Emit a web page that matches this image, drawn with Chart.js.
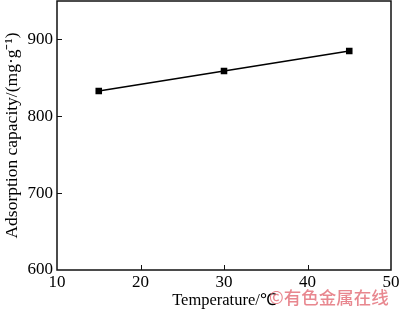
<!DOCTYPE html>
<html>
<head>
<meta charset="utf-8">
<script src="https://cdn.jsdelivr.net/npm/chart.js@4"></script>
<style>
    html, body { margin: 0; padding: 0; background: #fff; }
    #wrap { width: 400px; height: 312px; }
</style>
</head>
<body>
<div id="wrap"><canvas id="c"></canvas></div>
<script>
const temperatures = [15, 30, 45];
const capacities = [833, 859, 885];
const xTicks = [10, 20, 30, 40, 50];
const yTicks = [600, 700, 800, 900];

const SERIF = '"Liberation Serif", "Times New Roman", serif';

const frameAndTicks = {
    id: 'frameAndTicks',
    afterDraw(chart) {
        const { ctx: c, chartArea: a, scales: { x, y } } = chart;
        c.save();
        c.strokeStyle = '#111';
        c.lineWidth = 1.5;
        c.strokeRect(a.left, a.top, a.right - a.left, a.bottom - a.top);
        c.lineWidth = 1;
        c.beginPath();
        for (const v of xTicks.slice(1, -1)) {
            const px = Math.round(x.getPixelForValue(v)) + 0.5;
            c.moveTo(px, a.bottom);
            c.lineTo(px, a.bottom - 5);
        }
        for (const v of yTicks.slice(1)) {
            const py = Math.round(y.getPixelForValue(v)) + 0.5;
            c.moveTo(a.left, py);
            c.lineTo(a.left + 5, py);
        }
        c.stroke();

        // watermark
        c.font = '500 17.5px "Noto Sans CJK SC", sans-serif';
        c.fillStyle = 'rgba(226, 105, 115, 0.8)';
        c.textAlign = 'left';
        c.textBaseline = 'middle';
        c.fillText('©有色金属在线', 269, 297);
        c.restore();
    }
};

new Chart(document.getElementById('c'), {
    type: 'scatter',
    data: {
        datasets: [{
            data: temperatures.map((t, i) => ({ x: t, y: capacities[i] })),
            showLine: true,
            borderColor: '#000',
            borderWidth: 1.6,
            backgroundColor: '#000',
            pointStyle: 'rect',
            pointRadius: 3.5,
            pointHoverRadius: 3.5,
        }]
    },
    options: {
        responsive: true,
        maintainAspectRatio: false,
        animation: false,
        layout: { autoPadding: false, padding: { top: 1, right: 9, left: 0, bottom: 0 } },
        plugins: {
            legend: { display: false },
            tooltip: { enabled: false }
        },
        scales: {
            x: {
                type: 'linear',
                min: 10,
                max: 50,
                afterFit: (s) => { s.height = 42; s.paddingLeft = 0; s.paddingRight = 0; },
                afterBuildTicks: (s) => { s.ticks = xTicks.map(v => ({ value: v })); },
                grid: { display: false, drawTicks: false },
                border: { display: false },
                ticks: {
                    color: '#000',
                    padding: 2,
                    font: { family: SERIF, size: 17 }
                },
                title: {
                    display: true,
                    text: 'Temperature/℃',
                    color: '#000',
                    padding: { top: 0, bottom: 1 },
                    font: { family: SERIF, size: 16.5 }
                }
            },
            y: {
                min: 600,
                max: 950,
                afterFit: (s) => { s.width = 57; s.paddingTop = 0; s.paddingBottom = 0; },
                afterBuildTicks: (s) => { s.ticks = yTicks.map(v => ({ value: v })); },
                grid: { display: false, drawTicks: false },
                border: { display: false },
                ticks: {
                    color: '#000',
                    padding: 4,
                    font: { family: SERIF, size: 17 }
                },
                title: {
                    display: true,
                    text: 'Adsorption capacity/(mg·g⁻¹)',
                    color: '#000',
                    padding: { top: 2, bottom: 0 },
                    font: { family: SERIF, size: 17.5 }
                }
            }
        }
    },
    plugins: [frameAndTicks]
});
</script>
</body>
</html>
